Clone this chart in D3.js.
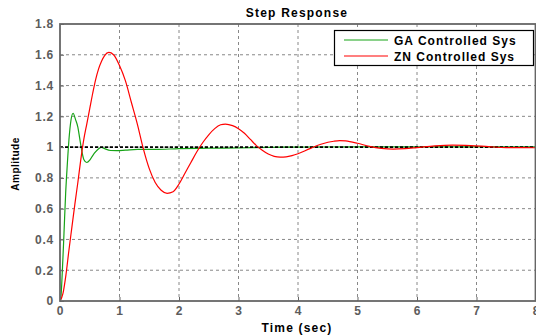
<!DOCTYPE html>
<html><head><meta charset="utf-8">
<script src="https://cdn.jsdelivr.net/npm/d3@7"></script>
<style>
html,body{margin:0;padding:0;background:#fff;}
svg{display:block;font-family:"Liberation Sans",Arial,sans-serif;}
</style></head>
<body><svg id="c" width="536" height="335"></svg>
<script>
const xTicks = [0,1,2,3,4,5,6,7,8];
const yTicks = [0,0.2,0.4,0.6,0.8,1,1.2,1.4,1.6,1.8];
const seriesNames = ["GA Controlled Sys","ZN Controlled Sys"];
const gaTime = [0,0.01,0.04,0.067,0.095,0.12,0.15,0.185,0.22,0.26,0.30,0.33,0.36,0.40,0.45,0.50,0.55,0.60,0.65,0.70,0.75,0.85,0.95,1.1,1.3,1.6,2.0,2.5,3.0,3.5,4.0,5,6,8];
const gaValue = [0,0.006,0.2,0.44,0.70,0.87,1.046,1.176,1.22,1.18,1.13,1.06,0.99,0.92,0.90,0.915,0.945,0.97,0.99,0.998,0.99,0.978,0.977,0.98,0.985,0.985,0.99,0.993,0.995,0.998,1.0,1.002,1.002,1.002];
const znTime = [0,0.05,0.1,0.15,0.2,0.25,0.3,0.35,0.4,0.45,0.5,0.55,0.6,0.65,0.7,0.75,0.82,0.9,1.0,1.1,1.2,1.3,1.4,1.5,1.6,1.7,1.8,1.9,2.0,2.1,2.2,2.3,2.4,2.5,2.6,2.7,2.78,2.9,3.0,3.1,3.2,3.3,3.4,3.5,3.6,3.7,3.8,3.9,4.0,4.2,4.4,4.6,4.7,4.8,5.0,5.2,5.4,5.6,5.8,6.0,6.3,6.6,6.9,7.2,7.5,8.0];
const znValue = [0,0.05,0.17,0.33,0.48,0.63,0.77,0.92,1.05,1.15,1.25,1.35,1.44,1.51,1.56,1.595,1.615,1.6,1.53,1.43,1.29,1.15,0.99,0.86,0.77,0.72,0.70,0.71,0.76,0.83,0.9,0.97,1.03,1.08,1.12,1.145,1.15,1.14,1.12,1.09,1.05,1.01,0.98,0.955,0.94,0.935,0.937,0.945,0.957,0.99,1.02,1.038,1.042,1.04,1.025,1.005,0.992,0.987,0.99,0.997,1.008,1.013,1.01,1.003,0.997,0.996];
const refValue = 1;

const svg = d3.select("#c");
const L=60, R=536, T=24, B=301;
const x = d3.scaleLinear().domain([0,8]).range([L,R]);
const y = d3.scaleLinear().domain([0,1.8]).range([B,T]);

svg.append("rect").attr("width",536).attr("height",335).attr("fill","#fff");

// grid
const grid = svg.append("g");
grid.selectAll("line.gx").data(xTicks.slice(1,-1)).enter().append("line")
  .attr("x1",d=>x(d)).attr("x2",d=>x(d)).attr("y1",T).attr("y2",B)
  .attr("stroke","#888").attr("stroke-width",1).attr("stroke-dasharray","3,3");
grid.selectAll("line.gy").data(yTicks.slice(1,-1)).enter().append("line")
  .attr("y1",d=>y(d)).attr("y2",d=>y(d)).attr("x1",L).attr("x2",R)
  .attr("stroke","#888").attr("stroke-width",1).attr("stroke-dasharray","3,3");

const clip = svg.append("clipPath").attr("id","pc").append("rect")
  .attr("x",L).attr("y",T).attr("width",R-L).attr("height",B-T);
const plot = svg.append("g").attr("clip-path","url(#pc)");
const line = d3.line().x(d=>x(d[0])).y(d=>y(d[1])).curve(d3.curveMonotoneX);

plot.append("path").datum(gaTime.map((t,i)=>[t,gaValue[i]]))
  .attr("d",line).attr("fill","none").attr("stroke","#17a317").attr("stroke-width",1.2);
plot.append("line").attr("x1",x(0)).attr("x2",x(8)).attr("y1",y(refValue)).attr("y2",y(refValue))
  .attr("stroke","#000").attr("stroke-width",1.6).attr("stroke-dasharray","3,2");
plot.append("path").datum(znTime.map((t,i)=>[t,znValue[i]]))
  .attr("d",line).attr("fill","none").attr("stroke","#ff0000").attr("stroke-width",1.2);

// axes
const xa = svg.append("g").attr("transform",`translate(0,${B})`)
  .call(d3.axisBottom(x).tickValues(xTicks).tickFormat(d3.format("d")).tickSize(-4).tickPadding(5));
const ya = svg.append("g").attr("transform",`translate(${L},0)`)
  .call(d3.axisLeft(y).tickValues(yTicks).tickFormat(d=>String(+d.toFixed(1))).tickSize(-4).tickPadding(6));
[xa,ya].forEach(a=>{
  a.select(".domain").remove();
  a.selectAll(".tick line").attr("stroke","#666");
  a.selectAll(".tick text").attr("fill","#5c5c5c").attr("font-size","12px")
    .attr("font-weight","bold").attr("letter-spacing","0.8px")
    .attr("font-family","'Liberation Sans',Arial,sans-serif");
});
xa.selectAll(".tick text").attr("dy","0.71em");

// frame
svg.append("rect").attr("x",L).attr("y",T).attr("width",R-L-0.5).attr("height",B-T)
  .attr("fill","none").attr("stroke","#666").attr("stroke-width",1.8);

// title & labels
svg.append("text").attr("x",297).attr("y",17).attr("text-anchor","middle")
  .attr("font-size","12px").attr("font-weight","bold").attr("letter-spacing","1.2px").text("Step Response");
svg.append("text").attr("x",297).attr("y",332).attr("text-anchor","middle")
  .attr("font-size","12px").attr("font-weight","bold").attr("letter-spacing","1.2px").text("Time (sec)");
svg.append("text").attr("transform","translate(19,164) rotate(-90)").attr("text-anchor","middle")
  .attr("font-size","10px").attr("font-weight","bold").attr("letter-spacing","0.5px").text("Amplitude");

// legend
const lg = svg.append("g");
lg.append("rect").attr("x",334.5).attr("y",30.5).attr("width",199).attr("height",35)
  .attr("fill","#fff").attr("stroke","#000").attr("stroke-width",1.2);
const lcol = ["#17a317","#ff0000"];
seriesNames.forEach((n,i)=>{
  const yy = 40 + i*16;
  lg.append("line").attr("x1",344).attr("x2",388).attr("y1",yy).attr("y2",yy)
    .attr("stroke",lcol[i]).attr("stroke-width",1.2);
  lg.append("text").attr("x",394).attr("y",yy+4.5).attr("font-size","12px")
    .attr("font-weight","bold").attr("letter-spacing","1px").text(n);
});
</script></body></html>
